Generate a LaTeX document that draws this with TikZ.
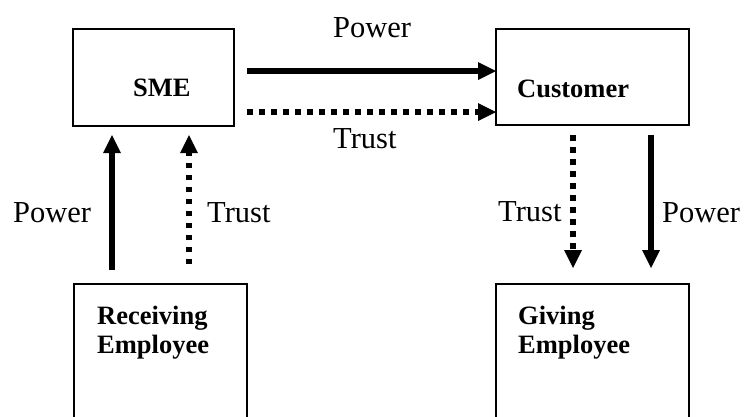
\documentclass[tikz,border=0pt]{standalone}
\usepackage{fontspec}
\setmainfont{Liberation Serif}
\usetikzlibrary{arrows.meta,calc}
\begin{document}
\begin{tikzpicture}[x=1pt,y=-1pt,
  box/.style={draw, line width=1.5pt, inner sep=0pt, outer sep=0pt, anchor=north west},
  power/.style={line width=5.5pt, -{Triangle[length=18pt,width=18pt,line width=0pt]}},
  trust/.style={power, dash pattern=on 5.5pt off 6.5pt},
  lbl/.style={inner sep=0pt, anchor=base west, font=\fontsize{30.5}{34}\selectfont},
  bx/.style={inner sep=0pt, anchor=base west, align=left, font=\fontsize{26.5}{29}\selectfont\bfseries}]
\clip (0,0) rectangle (744,416);
% boxes
\node[box, minimum width=161pt, minimum height=97pt] (sme) at (73,29) {};
\node[box, minimum width=193pt, minimum height=96pt] (cust) at (496,29) {};
\node[box, minimum width=173pt, minimum height=150pt] (recv) at (74,284) {};
\node[box, minimum width=193pt, minimum height=150pt] (giv) at (496,284) {};
% box texts
\node[bx] (tsme) at (133,96) {SME};
\node[bx] (tcust) at (517,97) {Customer};
\node[bx] (trecv) at (97,353) {Receiving\\Employee};
\node[bx] (tgiv) at (518,353) {Giving\\Employee};
% arrows
\draw[power] ($(sme.north east)+(13,42)$) -- ($(cust.north west)+(0,42)$);
\draw[trust] ($(sme.north east)+(13,83)$) -- ($(cust.north west)+(0,83)$);
\draw[power] ($(recv.north west)+(38,-14)$) -- ($(sme.south west)+(39,9)$);
\draw[trust] ($(recv.north west)+(115,-20)$) -- ($(sme.south west)+(116,9)$);
\draw[trust] ($(cust.south west)+(77,10)$) -- ($(giv.north west)+(77,-16)$);
\draw[power] ($(cust.south west)+(155,10)$) -- ($(giv.north west)+(155,-16)$);
% labels
\node[lbl] (lp1) at (333,37) {Power};
\node[lbl] (lt1) at (333,148) {Trust};
\node[lbl] (lp2) at (13,222) {Power};
\node[lbl] (lt2) at (207,222) {Trust};
\node[lbl] (lt3) at (498,221) {Trust};
\node[lbl] (lp3) at (662,222) {Power};
\end{tikzpicture}
\end{document}
